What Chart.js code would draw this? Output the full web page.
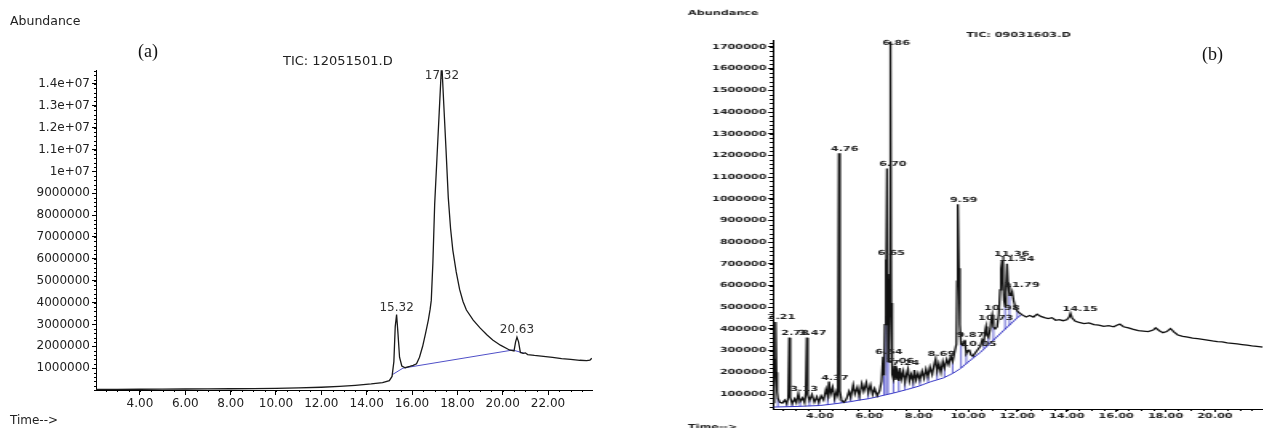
<!DOCTYPE html>
<html>
<head>
<meta charset="utf-8">
<title>TIC chromatograms</title>
<script src="https://cdn.jsdelivr.net/npm/chart.js@4.4.1/dist/chart.umd.min.js"></script>
<style>
html, body { margin: 0; padding: 0; background: #fff; }
body { width: 1263px; height: 428px; overflow: hidden; position: relative; }
canvas { position: absolute; top: 0; }
#chartA { left: 0; }
#chartB { left: 640px; transform: scaleX(1.6); transform-origin: 0 0; }
.tag { position: absolute; font-family: 'Liberation Serif', 'DejaVu Serif', serif; font-size: 18px; line-height: 18px; color: #111; }
</style>
</head>
<body>
<canvas id="chartA" width="630" height="428"></canvas>
<canvas id="chartB" width="392" height="428"></canvas>
<div class="tag" style="left:138px; top:42px;">(a)</div>
<div class="tag" style="left:1202px; top:45px;">(b)</div>
<script>
// (a) TIC: 12051501.D
const timeA = [2.06, 3, 4, 5, 6, 7, 8, 9, 10, 11,
  12, 12.8, 13.5, 14.2, 14.7, 15.0, 15.12, 15.2, 15.26, 15.32,
  15.38, 15.45, 15.55, 15.7, 15.9, 16.05, 16.2, 16.33, 16.47, 16.6,
  16.72, 16.8, 16.85, 16.92, 17.0, 17.1, 17.2, 17.29, 17.33, 17.4,
  17.5, 17.6, 17.7, 17.8, 17.95, 18.1, 18.25, 18.4, 18.7, 19.0,
  19.3, 19.56, 19.9, 20.3, 20.5, 20.57, 20.63, 20.7, 20.78, 20.9,
  21.0, 21.1, 21.4, 21.8, 22.2, 22.6, 23.0, 23.4, 23.7, 23.85, 23.93];
const abundA = [25000, 30000, 35000, 40000, 45000, 52000, 58000, 65000, 75000, 95000,
  125000, 165000, 215000, 280000, 340000, 430000, 620000, 1300000, 2900000, 3450000,
  2600000, 1500000, 1100000, 1020000, 1080000, 1130000, 1200000, 1500000, 2000000, 2600000,
  3200000, 3700000, 4100000, 5800000, 8500000, 10600000, 12700000, 14600000, 14600000, 13100000,
  11000000, 8800000, 7400000, 6400000, 5400000, 4600000, 4050000, 3660000, 3200000, 2840000,
  2530000, 2290000, 2050000, 1830000, 1790000, 2200000, 2420000, 2200000, 1720000, 1680000,
  1700000, 1620000, 1580000, 1540000, 1490000, 1440000, 1400000, 1360000, 1340000, 1370000, 1450000];
const baseTimeA = [15.13, 15.6, 20.45, 20.95];
const baseA = [700000, 1000000, 1830000, 1680000];
const peakTimeA = [15.32, 17.32, 20.63];
const peakHeightA = [3450000, 14600000, 2420000];
const peakLabelA = ['15.32', '17.32', '20.63'];
const xTicksA = [4, 6, 8, 10, 12, 14, 16, 18, 20, 22];
const yTicksA = [1e6, 2e6, 3e6, 4e6, 5e6, 6e6, 7e6, 8e6, 9e6, 1e7, 1.1e7, 1.2e7, 1.3e7, 1.4e7];
const yLabelsA = ['1000000', '2000000', '3000000', '4000000', '5000000', '6000000', '7000000',
  '8000000', '9000000', '1e+07', '1.1e+07', '1.2e+07', '1.3e+07', '1.4e+07'];

// (b) TIC: 09031603.D
const timeB = [2.10, 2.15, 2.18, 2.21, 2.24, 2.27, 2.30, 2.38, 2.48, 2.58,
  2.66, 2.72, 2.76, 2.80, 2.88, 2.98, 3.05, 3.13, 3.20, 3.30,
  3.38, 3.43, 3.47, 3.51, 3.58, 3.68, 3.78, 3.88, 3.96, 4.05,
  4.15, 4.25, 4.32, 4.37, 4.43, 4.52, 4.60, 4.68, 4.73, 4.77,
  4.81, 4.88, 4.98, 5.08, 5.18, 5.25, 5.35, 5.42, 5.52, 5.60,
  5.70, 5.78, 5.88, 5.96, 6.05, 6.14, 6.22, 6.32, 6.42, 6.50,
  6.56, 6.60, 6.63, 6.66, 6.69, 6.72, 6.76, 6.80, 6.83, 6.86,
  6.89, 6.93, 6.98, 7.03, 7.08, 7.14, 7.20, 7.24, 7.30, 7.38,
  7.45, 7.52, 7.57, 7.63, 7.70, 7.78, 7.83, 7.90, 7.98, 8.05,
  8.14, 8.22, 8.30, 8.38, 8.46, 8.55, 8.62, 8.69, 8.75, 8.82,
  8.90, 8.98, 9.05, 9.14, 9.22, 9.30, 9.38, 9.46, 9.53, 9.56,
  9.59, 9.63, 9.67, 9.72, 9.78, 9.83, 9.87, 9.93, 10.00, 10.05,
  10.12, 10.20, 10.30, 10.40, 10.50, 10.58, 10.64, 10.70, 10.73, 10.77,
  10.83, 10.90, 10.95, 10.98, 11.03, 11.10, 11.18, 11.25, 11.30, 11.34,
  11.38, 11.42, 11.46, 11.50, 11.54, 11.58, 11.62, 11.68, 11.74, 11.79,
  11.85, 11.92, 12.00, 12.10, 12.20, 12.35, 12.50, 12.65, 12.80, 12.95,
  13.10, 13.25, 13.40, 13.55, 13.70, 13.85, 14.00, 14.10, 14.15, 14.22,
  14.35, 14.50, 14.70, 14.90, 15.10, 15.30, 15.50, 15.70, 15.90, 16.05,
  16.15, 16.30, 16.50, 16.70, 16.90, 17.10, 17.30, 17.50, 17.60, 17.75,
  17.90, 18.05, 18.20, 18.35, 18.50, 18.70, 18.90, 19.10, 19.30, 19.50,
  19.70, 19.90, 20.10, 20.30, 20.50, 20.70, 20.90, 21.10, 21.30, 21.50,
  21.70, 21.95];
const abundB = [60000, 120000, 260000, 432000, 200000, 110000, 80000, 62000, 58000, 72000,
  55000, 85000, 360000, 85000, 55000, 78000, 60000, 102000, 65000, 82000,
  60000, 105000, 360000, 95000, 70000, 98000, 62000, 88000, 62000, 92000,
  72000, 122000, 90000, 158000, 98000, 132000, 80000, 112000, 95000, 1210000,
  115000, 70000, 62000, 78000, 112000, 85000, 142000, 100000, 132000, 90000,
  148000, 112000, 152000, 105000, 142000, 98000, 125000, 92000, 115000, 160000,
  272000, 185000, 420000, 720000, 460000, 1140000, 250000, 320000, 650000, 1725000,
  520000, 190000, 170000, 230000, 165000, 200000, 160000, 220000, 170000, 205000,
  155000, 195000, 215000, 160000, 190000, 158000, 210000, 165000, 195000, 165000,
  205000, 172000, 215000, 180000, 225000, 190000, 230000, 262000, 205000, 240000,
  200000, 250000, 220000, 260000, 235000, 275000, 250000, 295000, 330000, 620000,
  975000, 680000, 420000, 330000, 325000, 340000, 350000, 285000, 300000, 305000,
  280000, 275000, 290000, 305000, 320000, 350000, 340000, 395000, 411000, 370000,
  360000, 400000, 450000, 465000, 410000, 400000, 410000, 470000, 580000, 680000,
  715000, 620000, 530000, 505000, 600000, 700000, 610000, 555000, 555000, 572000,
  530000, 500000, 482000, 472000, 465000, 455000, 462000, 455000, 468000, 458000,
  452000, 448000, 452000, 440000, 443000, 438000, 442000, 455000, 472000, 450000,
  435000, 430000, 425000, 428000, 420000, 418000, 412000, 415000, 410000, 418000,
  422000, 410000, 405000, 398000, 392000, 390000, 388000, 395000, 405000, 392000,
  383000, 388000, 402000, 385000, 372000, 366000, 362000, 358000, 355000, 352000,
  349000, 345000, 342000, 340000, 336000, 334000, 331000, 328000, 325000, 322000,
  320000, 316000];
const baseTimeB = [2.12, 3.0, 4.0, 4.6, 5.25, 5.6, 6.0, 6.5, 7.0, 7.5, 8.0,
  8.5, 9.0, 9.4, 9.7, 10.0, 10.5, 11.0, 11.5, 12.0, 12.2];
const baseB = [40000, 42500, 47000, 55000, 65000, 72000, 79000, 92000, 105000, 120000, 136000,
  157000, 174000, 196000, 218000, 247000, 292000, 345000, 399000, 452000, 468000];
const dropTimeB = [2.30, 2.66, 2.88, 3.20, 3.58, 3.96, 4.32, 4.60, 4.88, 5.25,
  5.60, 5.96, 6.32, 6.60, 6.69, 6.76, 6.98, 7.20, 7.45, 7.78,
  8.05, 8.38, 8.75, 9.05, 9.38, 9.72, 9.93, 10.20, 10.64, 10.83,
  11.03, 11.50, 11.68, 12.00];
const dropLowB = [41000, 41500, 42000, 43000, 44000, 46000, 49000, 55000, 60000, 65000,
  72000, 78000, 88000, 95000, 98000, 100000, 105000, 112000, 118000, 128000,
  138000, 152000, 166000, 176000, 195000, 220000, 240000, 268000, 310000, 330000,
  345000, 398000, 417000, 452000];
const dropHighB = [80000, 55000, 55000, 65000, 70000, 62000, 90000, 80000, 70000, 85000,
  90000, 105000, 92000, 185000, 460000, 250000, 170000, 160000, 155000, 158000,
  165000, 180000, 205000, 220000, 250000, 330000, 285000, 275000, 340000, 360000,
  410000, 505000, 555000, 482000];
const peakTimeB = [2.21, 2.76, 3.47, 3.13, 4.37, 4.77, 6.56, 6.66, 6.72, 6.86, 7.03,
  7.24, 8.69, 9.59, 9.87, 10.05, 10.73, 10.98, 11.38, 11.58, 11.79, 14.15];
const peakHeightB = [432000, 360000, 360000, 102000, 150000, 1210000, 272000, 730000, 1140000, 1725000, 230000,
  220000, 262000, 975000, 350000, 310000, 430000, 475000, 725000, 703000, 580000, 472000];
const peakLabelB = ['2.21', '2.78', '3.47', '3.13', '4.37', '4.76', '6.54', '6.65', '6.70', '6.86', '7.06',
  '7.24', '8.69', '9.59', '9.87', '10.05', '10.73', '10.98', '11.36', '11.54', '11.79', '14.15'];
const xTicksB = [4, 6, 8, 10, 12, 14, 16, 18, 20];
const yTicksB = [100000, 200000, 300000, 400000, 500000, 600000, 700000, 800000, 900000,
  1000000, 1100000, 1200000, 1300000, 1400000, 1500000, 1600000, 1700000];

Chart.defaults.font.family = "'DejaVu Sans', sans-serif";

function pts(xs, ys) {
  return xs.map((x, i) => ({ x: x, y: ys[i] }));
}

function peakLabels(times, heights, labels, font, color, align, dx, minTop) {
  return {
    id: 'peakLabels',
    afterDatasetsDraw(chart) {
      const { ctx, chartArea, scales } = chart;
      ctx.save();
      ctx.font = font;
      ctx.fillStyle = color;
      ctx.textAlign = align;
      ctx.textBaseline = 'bottom';
      times.forEach((t, i) => {
        const x = scales.x.getPixelForValue(t) + dx;
        const y = Math.max(chartArea.top + minTop, scales.y.getPixelForValue(heights[i]) - 1);
        ctx.fillText(labels[i], x, y);
      });
      ctx.restore();
    }
  };
}

// short unlabeled ticks between the labelled ones
function minorTicks(xStep, yStep, len) {
  return {
    id: 'minorTicks',
    afterDraw(chart) {
      const { ctx, scales: { x, y } } = chart;
      ctx.save();
      ctx.strokeStyle = '#000';
      ctx.lineWidth = 1;
      ctx.beginPath();
      for (let v = Math.ceil(x.min / xStep) * xStep; v <= x.max; v += xStep) {
        const px = Math.round(x.getPixelForValue(v)) + 0.5;
        ctx.moveTo(px, x.top);
        ctx.lineTo(px, x.top + len);
      }
      for (let v = Math.ceil(y.min / yStep) * yStep; v <= y.max; v += yStep) {
        const py = Math.round(y.getPixelForValue(v)) + 0.5;
        ctx.moveTo(y.right - len, py);
        ctx.lineTo(y.right, py);
      }
      ctx.stroke();
      ctx.restore();
    }
  };
}

function captions(items, color) {
  return {
    id: 'captions',
    afterDraw(chart) {
      const ctx = chart.ctx;
      ctx.save();
      ctx.fillStyle = color;
      ctx.textBaseline = 'middle';
      ctx.textAlign = 'left';
      items.forEach(c => {
        ctx.font = c.font;
        ctx.fillText(c.text, c.x, c.y);
      });
      ctx.restore();
    }
  };
}

function axis(min, max, ticks, labelFn, fit, tickLen, pad, fontSize, weight) {
  return {
    type: 'linear', min: min, max: max,
    afterBuildTicks: s => { s.ticks = ticks.map(v => ({ value: v })); },
    afterFit: fit,
    ticks: {
      autoSkip: false, maxRotation: 0, padding: pad, color: '#222',
      font: { size: fontSize, weight: weight },
      callback: labelFn
    },
    grid: { drawOnChartArea: false, tickLength: tickLen, color: '#000' },
    border: { color: '#000', width: 1 }
  };
}

new Chart(document.getElementById('chartA'), {
  type: 'line',
  data: {
    datasets: [
      { data: pts(timeA, abundA), borderColor: '#1a1a1a', borderWidth: 1.3 },
      { data: pts(baseTimeA, baseA), borderColor: '#5050c8', borderWidth: 1 }
    ]
  },
  options: {
    responsive: false, animation: false, devicePixelRatio: 1,
    layout: { padding: { left: 0, right: 38, top: 70, bottom: 0 } },
    elements: { point: { radius: 0 }, line: { tension: 0 } },
    plugins: { legend: { display: false }, tooltip: { enabled: false } },
    scales: {
      x: axis(2.06, 23.94, xTicksA, v => v.toFixed(2), s => { s.height = 38; }, 5, 2, 12, 'normal'),
      y: axis(0, 14640000, yTicksA, (v, i) => yLabelsA[i], s => { s.width = 96; }, 4, 2, 12, 'normal')
    }
  },
  plugins: [
    peakLabels(peakTimeA, peakHeightA, peakLabelA, "12px 'DejaVu Sans'", '#333', 'center', 0, 12),
    minorTicks(0.5, 200000, 2),
    captions([
      { text: 'Abundance', x: 10, y: 22, font: "12.5px 'DejaVu Sans'" },
      { text: 'TIC: 12051501.D', x: 283, y: 62, font: "13px 'DejaVu Sans'" },
      { text: 'Time-->', x: 10, y: 421, font: "12px 'DejaVu Sans'" }
    ], '#222')
  ]
});

new Chart(document.getElementById('chartB'), {
  type: 'line',
  data: {
    datasets: [
      { data: pts(timeB, abundB), borderColor: '#111', borderWidth: 1.3 },
      { data: pts(baseTimeB, baseB), borderColor: '#3434c4', borderWidth: 1 },
      {
        data: dropTimeB.flatMap((t, i) => [{ x: t, y: dropLowB[i] }, { x: t, y: dropHighB[i] }, { x: t, y: null }]),
        borderColor: '#4040c8', borderWidth: 0.8, spanGaps: false
      }
    ]
  },
  options: {
    responsive: false, animation: false, devicePixelRatio: 1,
    layout: { padding: { left: 0, right: 2.6, top: 40, bottom: 0 } },
    elements: { point: { radius: 0 }, line: { tension: 0 } },
    plugins: { legend: { display: false }, tooltip: { enabled: false } },
    scales: {
      x: axis(2.1, 21.95, xTicksB, v => v.toFixed(2), s => { s.height = 19; }, 3, 0, 7, 'bold'),
      y: axis(31000, 1732000, yTicksB, v => String(v), s => { s.width = 83.1; }, 3, 1, 7, 'bold')
    }
  },
  plugins: [
    peakLabels(peakTimeB, peakHeightB, peakLabelB, "bold 7px 'DejaVu Sans'", '#222', 'left', -5, 7),
    minorTicks(0.5, 20000, 2),
    captions([
      { text: 'Abundance', x: 30, y: 13, font: "bold 7px 'DejaVu Sans'" },
      { text: 'TIC: 09031603.D', x: 204, y: 35, font: "bold 7px 'DejaVu Sans'" },
      { text: 'Time-->', x: 30, y: 427, font: "bold 7px 'DejaVu Sans'" }
    ], '#222')
  ]
});
</script>
</body>
</html>
